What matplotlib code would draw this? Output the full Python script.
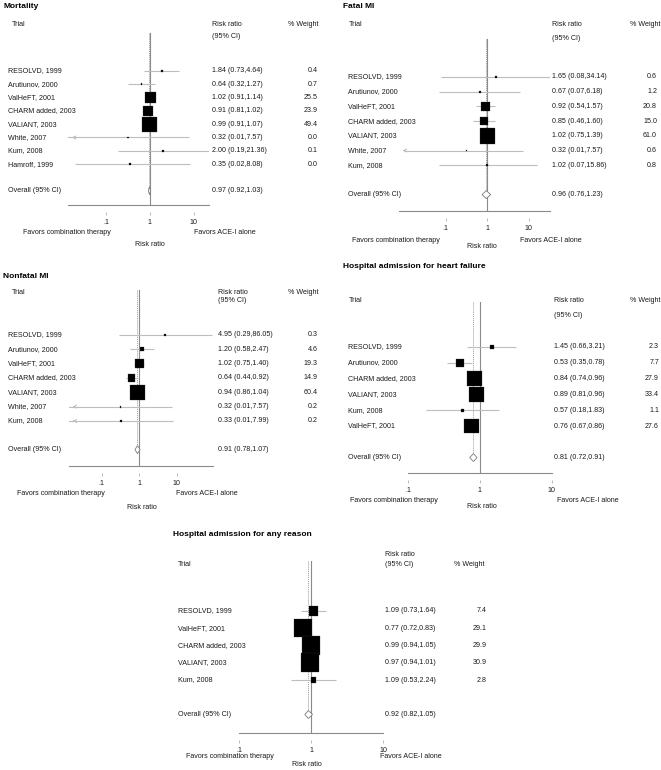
"""Forest plots: ACE-I plus ARB combination therapy vs ACE-I alone."""

import matplotlib

matplotlib.use("Agg")
import matplotlib.pyplot as plt
import matplotlib.transforms as mtransforms
import numpy as np
from matplotlib.ticker import NullLocator

plt.rcParams["font.family"] = ["Liberation Sans", "DejaVu Sans"]

W, H = 661, 770

# ----------------------------------------------------------------------
# Data
# ----------------------------------------------------------------------

mort_trials = ["RESOLVD, 1999", "Arutiunov, 2000", "ValHeFT, 2001", "CHARM added, 2003",
               "VALIANT, 2003", "White, 2007", "Kum, 2008", "Hamroff, 1999"]
mort_rr = [1.84, 0.64, 1.02, 0.91, 0.99, 0.32, 2.00, 0.35]
mort_lo = [0.73, 0.32, 0.91, 0.81, 0.91, 0.01, 0.19, 0.02]
mort_hi = [4.64, 1.27, 1.14, 1.02, 1.07, 7.57, 21.36, 8.08]
mort_w = [0.4, 0.7, 25.5, 23.9, 49.4, 0.0, 0.1, 0.0]
mort_overall = [0.97, 0.92, 1.03]

fmi_trials = ["RESOLVD, 1999", "Arutiunov, 2000", "ValHeFT, 2001", "CHARM added, 2003",
              "VALIANT, 2003", "White, 2007", "Kum, 2008"]
fmi_rr = [1.65, 0.67, 0.92, 0.85, 1.02, 0.32, 1.02]
fmi_lo = [0.08, 0.07, 0.54, 0.46, 0.75, 0.01, 0.07]
fmi_hi = [34.14, 6.18, 1.57, 1.60, 1.39, 7.57, 15.86]
fmi_w = [0.6, 1.2, 20.8, 15.0, 61.0, 0.6, 0.8]
fmi_overall = [0.96, 0.76, 1.23]

nmi_trials = ["RESOLVD, 1999", "Arutiunov, 2000", "ValHeFT, 2001", "CHARM added, 2003",
              "VALIANT, 2003", "White, 2007", "Kum, 2008"]
nmi_rr = [4.95, 1.20, 1.02, 0.64, 0.94, 0.32, 0.33]
nmi_lo = [0.29, 0.58, 0.75, 0.44, 0.86, 0.01, 0.01]
nmi_hi = [86.05, 2.47, 1.40, 0.92, 1.04, 7.57, 7.99]
nmi_w = [0.3, 4.6, 19.3, 14.9, 60.4, 0.2, 0.2]
nmi_overall = [0.91, 0.78, 1.07]

hf_trials = ["RESOLVD, 1999", "Arutiunov, 2000", "CHARM added, 2003", "VALIANT, 2003",
             "Kum, 2008", "ValHeFT, 2001"]
hf_rr = [1.45, 0.53, 0.84, 0.89, 0.57, 0.76]
hf_lo = [0.66, 0.35, 0.74, 0.81, 0.18, 0.67]
hf_hi = [3.21, 0.78, 0.96, 0.96, 1.83, 0.86]
hf_w = [2.3, 7.7, 27.9, 33.4, 1.1, 27.6]
hf_overall = [0.81, 0.72, 0.91]

any_trials = ["RESOLVD, 1999", "ValHeFT, 2001", "CHARM added, 2003", "VALIANT, 2003",
              "Kum, 2008"]
any_rr = [1.09, 0.77, 0.99, 0.97, 1.09]
any_lo = [0.73, 0.72, 0.94, 0.94, 0.53]
any_hi = [1.64, 0.83, 1.05, 1.01, 2.24]
any_w = [7.4, 29.1, 29.9, 30.9, 2.8]
any_overall = [0.92, 0.82, 1.05]

tick_values = [0.1, 1, 10]
tick_labels = [".1", "1", "10"]

# ----------------------------------------------------------------------
# Layout (pixel positions in the 661x770 canvas)
# ----------------------------------------------------------------------

PANELS = [
    dict(title="Mortality", trials=mort_trials, rr=mort_rr, lo=mort_lo, hi=mort_hi,
         w=mort_w, overall=mort_overall,
         x0=68, x1=209, ytop=33, ybot=205, x_one=150, decade=44, row0=71, pitch=13.3,
         box_k=2.09, title_xy=(3, 7), trial_xy=(12, 25), lab_x=8, rr_x=212,
         rr_head_y=(25, 37), w_x=318, w_head=(318, 25), fav_y=232, fav_l=23, fav_r=194,
         rrlab=(150, 245)),
    dict(title="Fatal MI", trials=fmi_trials, rr=fmi_rr, lo=fmi_lo, hi=fmi_hi,
         w=fmi_w, overall=fmi_overall,
         x0=399, x1=550, ytop=39, ybot=211, x_one=487, decade=41.5, row0=77, pitch=14.7,
         box_k=2.0, title_xy=(343, 7), trial_xy=(349, 25), lab_x=348, rr_x=552,
         rr_head_y=(25, 38), w_x=657, w_head=(661, 25), fav_y=240, fav_l=352, fav_r=520,
         rrlab=(482, 246)),
    dict(title="Nonfatal MI", trials=nmi_trials, rr=nmi_rr, lo=nmi_lo, hi=nmi_hi,
         w=nmi_w, overall=nmi_overall,
         x0=69, x1=213, ytop=290, ybot=466, x_one=139, decade=37.5, row0=335, pitch=14.33,
         box_k=1.93, title_xy=(3, 277), trial_xy=(12, 292), lab_x=8, rr_x=218,
         rr_head_y=(292, 300), w_x=318, w_head=(318, 292), fav_y=493, fav_l=17, fav_r=176,
         rrlab=(142, 507)),
    dict(title="Hospital admission for heart failure", trials=hf_trials, rr=hf_rr, lo=hf_lo,
         hi=hf_hi, w=hf_w, overall=hf_overall,
         x0=408, x1=552, ytop=302, ybot=473, x_one=480, decade=72, row0=347, pitch=15.8,
         box_k=2.7, title_xy=(343, 266), trial_xy=(349, 301), lab_x=348, rr_x=554,
         rr_head_y=(301, 315), w_x=659, w_head=(661, 301), fav_y=500, fav_l=350, fav_r=557,
         rrlab=(482, 506)),
    dict(title="Hospital admission for any reason", trials=any_trials, rr=any_rr, lo=any_lo,
         hi=any_hi, w=any_w, overall=any_overall,
         x0=239, x1=383, ytop=561, ybot=733, x_one=311, decade=72, row0=611, pitch=17.25,
         box_k=3.35, title_xy=(173, 534), trial_xy=(178, 564), lab_x=178, rr_x=385,
         rr_head_y=(555, 564), w_x=487, w_head=(485, 564), fav_y=757, fav_l=186, fav_r=380,
         rrlab=(307, 765)),
]

FS = 5.1
TITLE_FS = 6.0
TXT = "#1a1a1a"
CI_COL = "#bdbdbd"
NULL_COL = "#8a8a8a"


def fx(x):
    return x / W


def fy(y):
    return 1 - y / H


def draw_panel(fig, p):
    ax = fig.add_axes([fx(p["x0"]), fy(p["ybot"]),
                       (p["x1"] - p["x0"]) / W, (p["ybot"] - p["ytop"]) / H])
    ax.set_xscale("log")
    c, d = p["x_one"], p["decade"]
    xmin = 10 ** ((p["x0"] - c) / d)
    ax.set_xlim(xmin, 10 ** ((p["x1"] - c) / d))
    y0, dy = p["row0"], p["pitch"]
    ybot, ytop = (p["ybot"] - y0) / dy, (p["ytop"] - y0) / dy
    ax.set_ylim(ybot, ytop)

    n = len(p["trials"])
    rows = np.arange(n)
    orow = n + 1
    rr, lo, hi, w = (np.array(p[k], dtype=float) for k in ("rr", "lo", "hi", "w"))
    est, olo, ohi = p["overall"]

    # reference lines
    ax.axvline(1, color=NULL_COL, lw=0.8, zorder=1)
    ax.vlines(est, ytop, orow, colors="#9a9a9a", linestyles=(0, (1, 1)), lw=0.7, zorder=1)

    # confidence intervals, arrows where they run off the left edge
    ax.hlines(rows, lo, hi, colors=CI_COL, lw=0.8, zorder=2)
    for r, l in zip(rows, lo):
        if l < xmin * 1.4:
            ax.annotate("", xy=(xmin * 1.05, r), xytext=(xmin * 1.6, r),
                        arrowprops=dict(arrowstyle="->", color=CI_COL, lw=0.8,
                                        mutation_scale=5))

    # weight boxes (side in pixels ~ sqrt(weight))
    side_px = np.maximum(p["box_k"] * np.sqrt(w), 1.8)
    ax.scatter(rr, rows, s=(side_px * 0.72) ** 2, marker="s", c="black",
               edgecolors="#333333", linewidths=0.2, zorder=3)

    # pooled diamond
    h = 4.0 / dy
    ax.fill([olo, est, ohi, est], [orow, orow - h, orow, orow + h],
            facecolor="white", edgecolor="#7a7a7a", lw=0.6, zorder=3)

    # axes styling
    for s in ax.spines.values():
        s.set_visible(False)
    ax.spines["bottom"].set_position(("outward", 5))
    ax.plot([0, 1], [0, 0], transform=ax.transAxes, color=NULL_COL, lw=0.8,
            clip_on=False)
    ax.set_xticks(tick_values)
    ax.set_xticklabels(tick_labels)
    ax.xaxis.set_minor_locator(NullLocator())
    ax.tick_params(axis="x", direction="out", length=2.5, width=0.6, color="#b0b0b0",
                   pad=2.5, labelsize=FS, labelcolor=TXT)
    ax.set_yticks([])
    ax.patch.set_alpha(0)

    # text columns tied to the rows
    tr = mtransforms.blended_transform_factory(fig.transFigure, ax.transData)
    kw = dict(transform=tr, fontsize=FS, color=TXT, va="center", clip_on=False)
    for r, name, v, l, u, wt in zip(rows, p["trials"], rr, lo, hi, w):
        ax.text(fx(p["lab_x"]), r, name, ha="left", **kw)
        ax.text(fx(p["rr_x"]), r, f"{v:.2f} ({l:.2f},{u:.2f})", ha="left", **kw)
        ax.text(fx(p["w_x"]), r, f"{wt:.1f}", ha="right", **kw)
    ax.text(fx(p["lab_x"]), orow, "Overall (95% CI)", ha="left", **kw)
    ax.text(fx(p["rr_x"]), orow, f"{est:.2f} ({olo:.2f},{ohi:.2f})", ha="left", **kw)

    # headers and footers in canvas coordinates
    fkw = dict(fontsize=FS, color=TXT, va="center")
    fig.text(fx(p["title_xy"][0]), fy(p["title_xy"][1]), p["title"], ha="left",
             fontsize=TITLE_FS, fontweight="bold", color="black", va="center")
    fig.text(fx(p["trial_xy"][0]), fy(p["trial_xy"][1]), "Trial", ha="left", **fkw)
    fig.text(fx(p["rr_x"]), fy(p["rr_head_y"][0]), "Risk ratio", ha="left", **fkw)
    fig.text(fx(p["rr_x"]), fy(p["rr_head_y"][1]), "(95% CI)", ha="left", **fkw)
    fig.text(fx(p["w_head"][0]), fy(p["w_head"][1]), "% Weight", ha="right", **fkw)
    fig.text(fx(p["fav_l"]), fy(p["fav_y"]), "Favors combination therapy", ha="left", **fkw)
    fig.text(fx(p["fav_r"]), fy(p["fav_y"]), "Favors ACE-I alone", ha="left", **fkw)
    fig.text(fx(p["rrlab"][0]), fy(p["rrlab"][1]), "Risk ratio", ha="center", **fkw)
    return ax


fig = plt.figure(figsize=(W / 100, H / 100), dpi=100)
fig.patch.set_facecolor("white")
for panel in PANELS:
    draw_panel(fig, panel)

fig.savefig("out.png", dpi=100, facecolor="white")
